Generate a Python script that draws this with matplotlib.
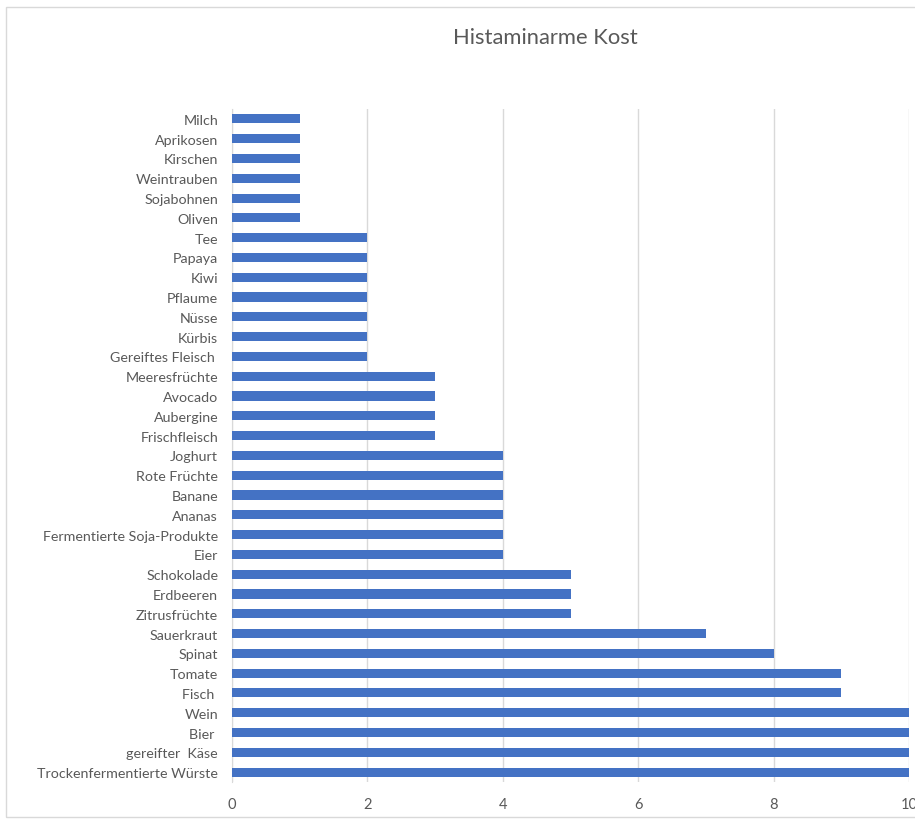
import matplotlib.pyplot as plt
from matplotlib.patches import Rectangle

# categories listed bottom to top, as in the source sheet
foods = ['Trockenfermentierte Würste', 'gereifter  Käse', 'Bier ', 'Wein', 'Fisch ',
         'Tomate', 'Spinat', 'Sauerkraut', 'Zitrusfrüchte', 'Erdbeeren', 'Schokolade',
         'Eier', 'Fermentierte Soja-Produkte', 'Ananas', 'Banane', 'Rote Früchte',
         'Joghurt', 'Frischfleisch', 'Aubergine', 'Avocado', 'Meeresfrüchte',
         'Gereiftes Fleisch ', 'Kürbis', 'Nüsse', 'Pflaume', 'Kiwi', 'Papaya', 'Tee',
         'Oliven', 'Sojabohnen', 'Weintrauben', 'Kirschen', 'Aprikosen', 'Milch']
histamine = [10, 10, 10, 10, 9, 9, 8, 7, 5, 5, 5, 4, 4, 4, 4, 4, 4, 3, 3, 3, 3,
             2, 2, 2, 2, 2, 2, 2, 1, 1, 1, 1, 1, 1]
xticks = [0, 2, 4, 6, 8, 10]

plt.rcParams['font.family'] = ['Lato', 'DejaVu Sans']
grey = '#595959'

fig = plt.figure(figsize=(9.15, 8.2), dpi=100)
W, H = 915, 820
ax = fig.add_axes([232 / W, 1 - 783 / H, (909 - 232) / W, (783 - 110) / H])

pos = range(len(foods))
ax.barh(pos, histamine, height=0.46, color='#4472C4', zorder=3)
ax.set_ylim(-0.5, len(foods) - 0.5)
ax.set_xlim(0, 10)
ax.set_yticks(list(pos))
ax.set_yticklabels(foods, fontsize=10.3, color=grey)
ax.set_xticks(xticks)
ax.set_xticklabels([str(t) for t in xticks], fontsize=10.5, color=grey)
ax.tick_params(length=0)
ax.tick_params(axis='y', pad=10)
ax.tick_params(axis='x', pad=11)
ax.xaxis.grid(True, color='#D9D9D9', linewidth=1, zorder=0)
for s in ['top', 'right', 'bottom']:
    ax.spines[s].set_visible(False)
ax.spines['left'].set_color('#D9D9D9')

fig.text(545 / W, 1 - 38 / H, 'Histaminarme Kost', ha='center', va='center',
         fontsize=15.8, color=grey)

fig.patches.append(Rectangle((6 / W, 1 - 818 / H), 1.0, (818 - 8) / H,
                             transform=fig.transFigure, fill=False,
                             edgecolor='#D9D9D9', linewidth=1))

fig.savefig('out.png', dpi=100)
